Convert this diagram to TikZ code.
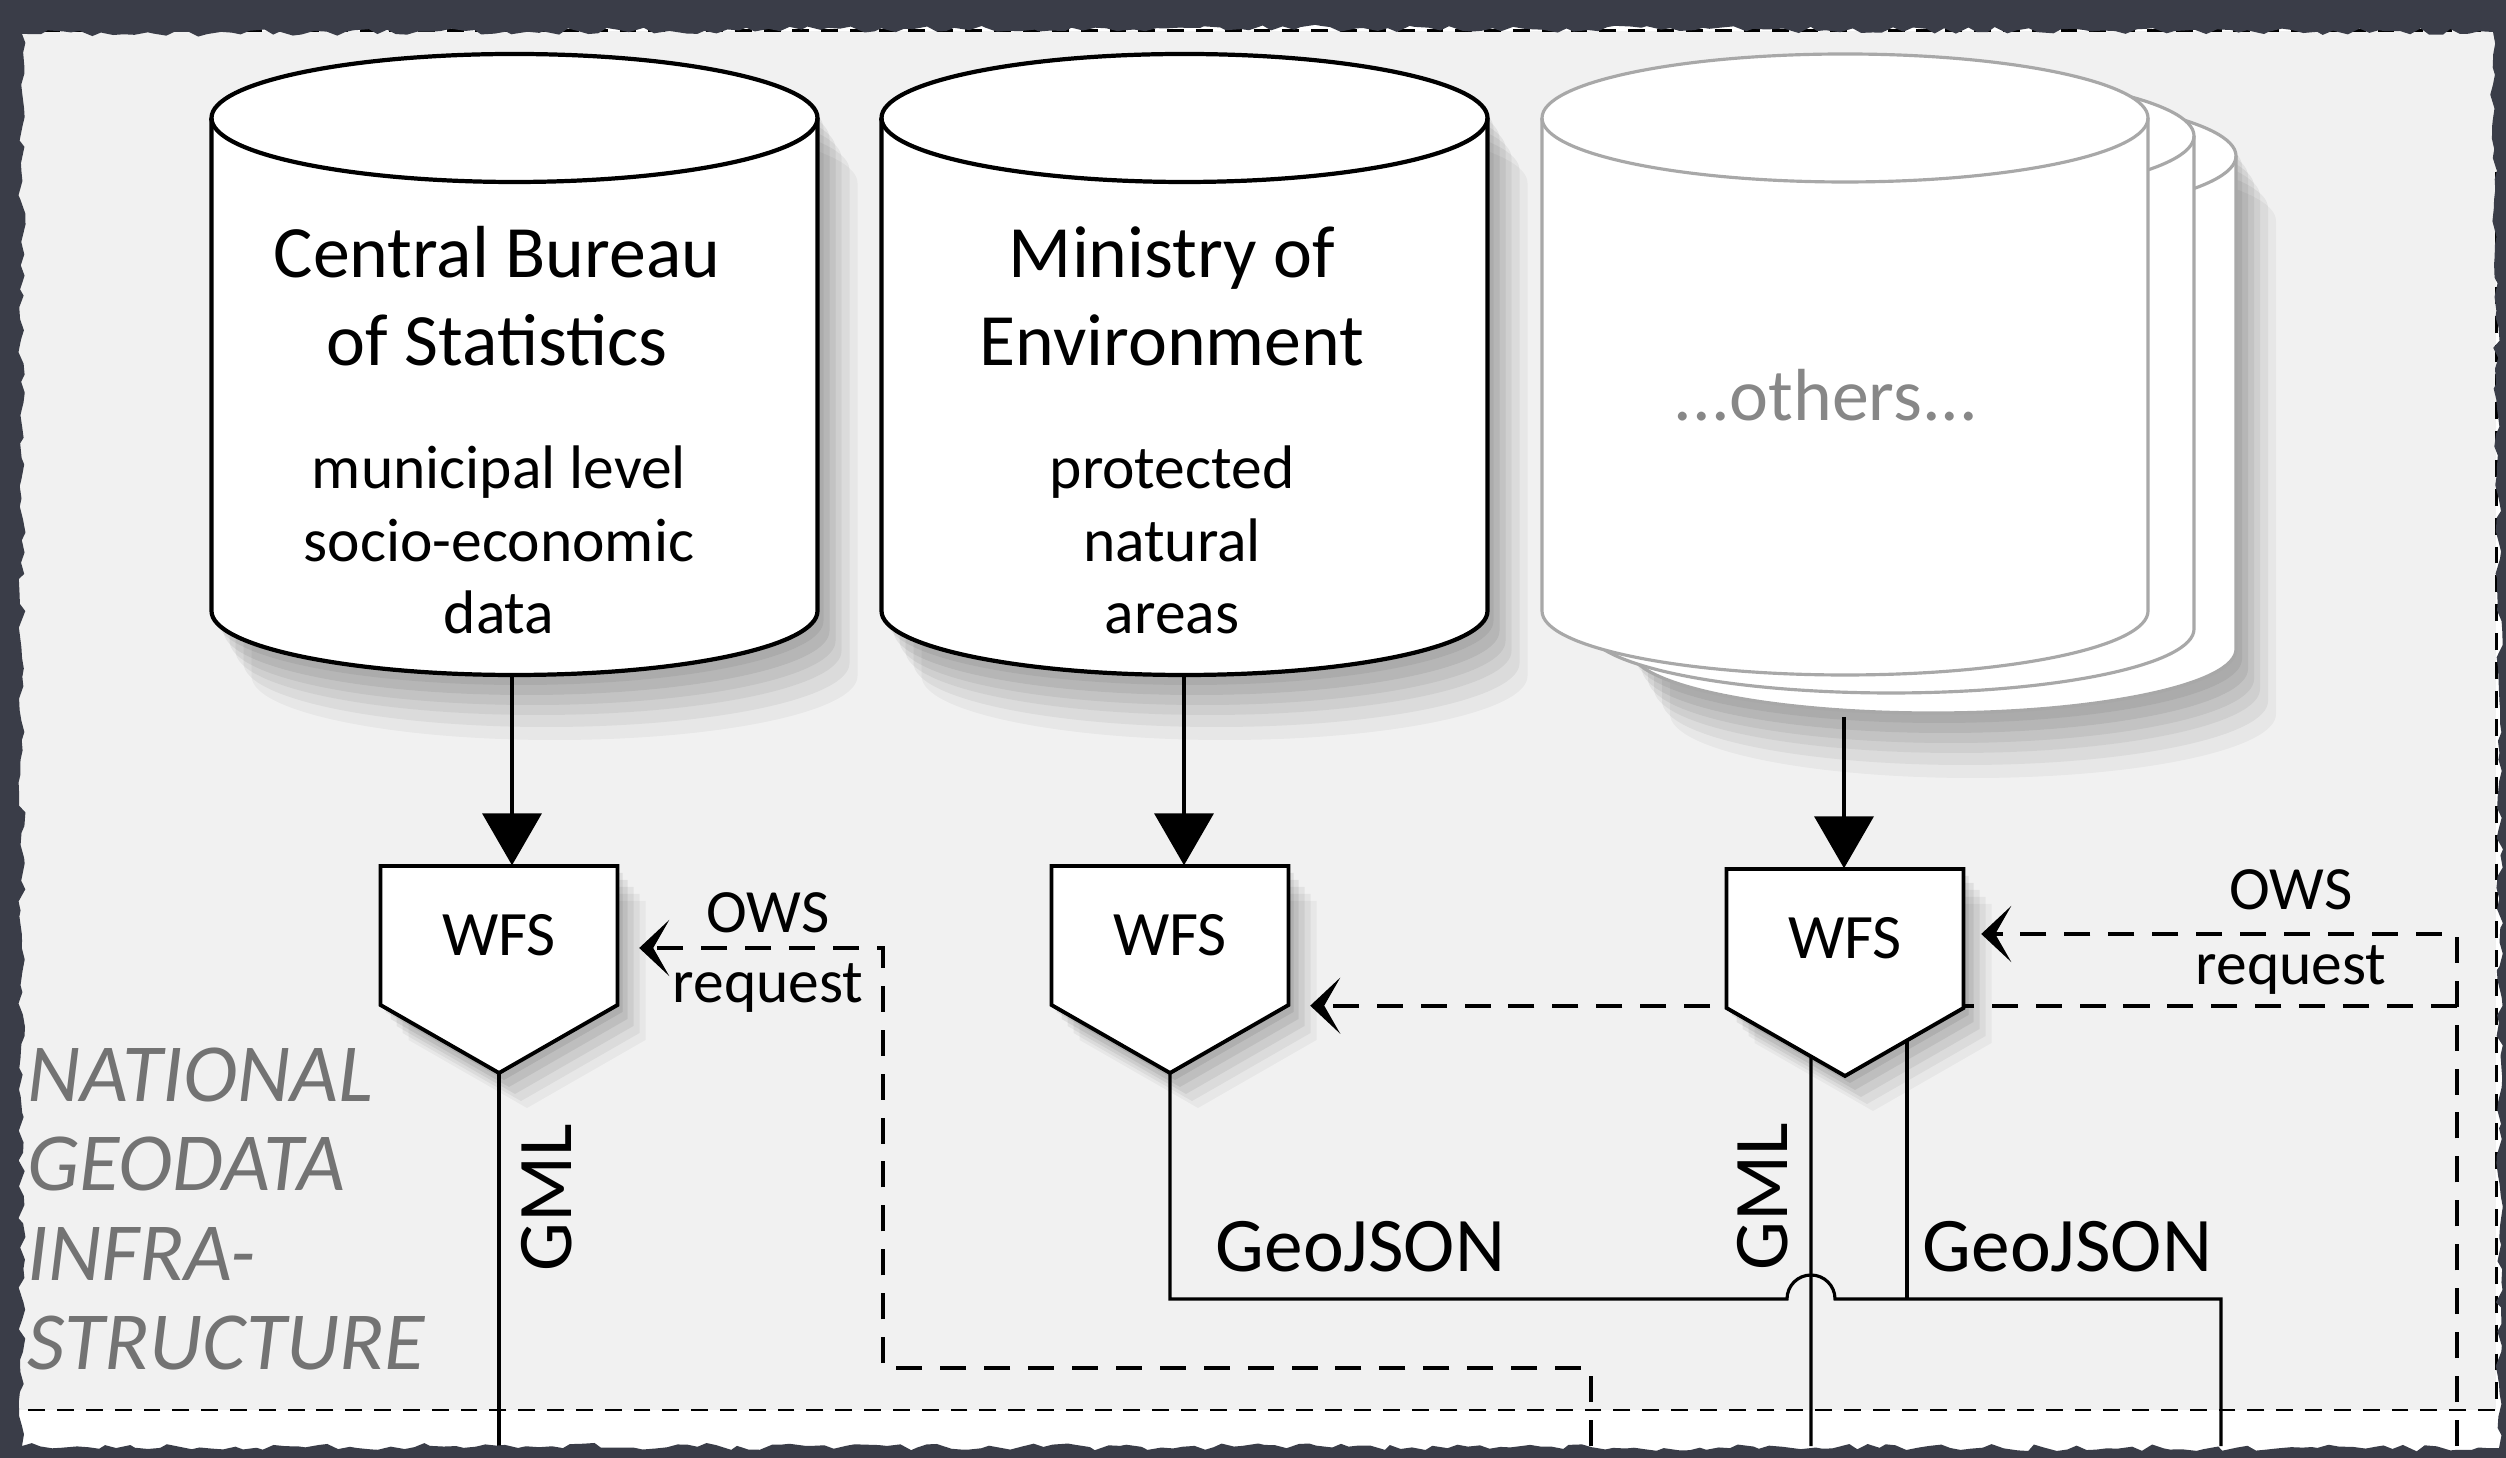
\documentclass[tikz,border=0pt]{standalone}
\usepackage{fontspec}
\setmainfont{Carlito}
\usetikzlibrary{arrows.meta,shadows,decorations.pathmorphing}

\definecolor{framegrey}{RGB}{58,61,72}
\definecolor{ngifill}{RGB}{241,241,241}
\definecolor{ghostline}{RGB}{168,168,168}
\definecolor{ghosttext}{RGB}{135,135,135}
\definecolor{ngitext}{RGB}{115,115,115}

\pgfdeclarelayer{paper}
\pgfdeclarelayer{lines}
\pgfsetlayers{paper,lines,main}

\tikzset{
  dbcyl/.style={fill=white, draw=black, line width=1.2pt},
  ghostcyl/.style={fill=white, draw=ghostline, line width=0.9pt},
  cylshadow/.style={
    drop shadow={shadow xshift=0.6mm, shadow yshift=-1mm, fill=black, opacity=0.06},
    drop shadow={shadow xshift=1.2mm, shadow yshift=-2mm, fill=black, opacity=0.06},
    drop shadow={shadow xshift=1.8mm, shadow yshift=-3mm, fill=black, opacity=0.06},
    drop shadow={shadow xshift=2.4mm, shadow yshift=-4mm, fill=black, opacity=0.05},
    drop shadow={shadow xshift=3.2mm, shadow yshift=-5.2mm, fill=black, opacity=0.05},
    drop shadow={shadow xshift=4mm, shadow yshift=-6.5mm, fill=black, opacity=0.04}},
  noshadow/.style={},
  wfsbox/.style={fill=white, draw=black, line width=1.1pt,
    drop shadow={shadow xshift=0.5mm, shadow yshift=-0.7mm, fill=black, opacity=0.08},
    drop shadow={shadow xshift=1mm, shadow yshift=-1.4mm, fill=black, opacity=0.07},
    drop shadow={shadow xshift=1.6mm, shadow yshift=-2.1mm, fill=black, opacity=0.06},
    drop shadow={shadow xshift=2.2mm, shadow yshift=-2.8mm, fill=black, opacity=0.05},
    drop shadow={shadow xshift=2.8mm, shadow yshift=-3.5mm, fill=black, opacity=0.04}},
  wfsnode/.style={minimum width=2.37cm, minimum height=1.39cm, inner sep=0pt,
    font=\fontsize{18}{21}\selectfont},
  feed/.style={line width=1.1pt, -{Triangle[length=5.2mm, width=5.9mm]}},
  flow/.style={line width=0.9pt},
  owsreq/.style={line width=1.05pt, dash pattern=on 7.4pt off 5.1pt,
    -{Stealth[length=3mm, width=5.6mm, inset=1.6mm]}},
  ngiborder/.style={line width=0.85pt, dash pattern=on 4.8pt off 3.4pt},
  dbtitle/.style={align=center, anchor=base, inner sep=0pt,
    font=\fontsize{21}{25.3}\selectfont},
  dbdata/.style={align=center, anchor=base, inner sep=0pt,
    font=\fontsize{17.5}{20.7}\selectfont},
  fmtlabel/.style={inner sep=0pt, font=\fontsize{22}{26}\selectfont},
  owslabel/.style={inner sep=0pt, anchor=base, font=\fontsize{17.5}{20}\selectfont},
  ngilabel/.style={align=left, anchor=base west, inner sep=0pt, text=ngitext,
    font=\fontsize{23.5}{25.5}\selectfont\itshape}
}

\begin{document}
\begin{tikzpicture}
    \useasboundingbox (0,0) rectangle (25.06,14.58);
    % paper and the infrastructure box
    \begin{pgfonlayer}{paper}
        \fill[white] (0,0) rectangle (25.06,14.58);
        \filldraw[fill=ngifill, draw=black, ngiborder] (0.10,0.48) rectangle (24.96,14.27);
    \end{pgfonlayer}

    % data stores
    \foreach \x in {5.145,11.845}
    {
        \filldraw[dbcyl, cylshadow, xshift=\x cm] (-3.03,13.40) -- (-3.03,8.47)
        arc[start angle=180, end angle=360, x radius=3.03cm, y radius=0.64cm]
        -- (3.03,13.40)
        arc[start angle=0, end angle=180, x radius=3.03cm, y radius=0.64cm] -- cycle;
        \draw[dbcyl, fill=none, xshift=\x cm] (-3.03,13.40)
        arc[start angle=180, end angle=360, x radius=3.03cm, y radius=0.64cm];
    }
    \foreach \dx/\dy/\sh in {0.88/-0.38/cylshadow, 0.46/-0.18/noshadow, 0/0/noshadow}
    {
        \filldraw[ghostcyl, \sh, xshift=18.45cm+\dx cm, yshift=\dy cm] (-3.03,13.40) -- (-3.03,8.47)
        arc[start angle=180, end angle=360, x radius=3.03cm, y radius=0.64cm]
        -- (3.03,13.40)
        arc[start angle=0, end angle=180, x radius=3.03cm, y radius=0.64cm] -- cycle;
        \draw[ghostcyl, fill=none, xshift=18.45cm+\dx cm, yshift=\dy cm] (-3.03,13.40)
        arc[start angle=180, end angle=360, x radius=3.03cm, y radius=0.64cm];
    }

    \node[dbtitle] (cbs) at (4.97,10.92) {Central Bureau\\of Statistics};
    \node[dbdata] (cbsData) at (4.99,8.24) {municipal level\\socio-economic\\data};
    \node[dbtitle] (moe) at (11.72,10.92) {Ministry of\\Environment};
    \node[dbdata] (moeData) at (11.72,8.24) {protected\\natural\\areas};
    \node[dbtitle, text=ghosttext] (others) at (18.26,10.37) {...others...};

    \coordinate (cbsBot) at (5.12,7.83);
    \coordinate (moeBot) at (11.84,7.83);
    \coordinate (othBot) at (18.44,7.41);

    % feature services
    \foreach \x/\y in {4.99/5.225, 11.70/5.225, 18.45/5.195}
        \filldraw[wfsbox, xshift=\x cm, yshift=\y cm] (-1.185,0.695) -- (1.185,0.695)
        -- (1.185,-0.695) -- (0,-1.375) -- (-1.185,-0.695) -- cycle;
    \node[wfsnode] (wfsA) at (4.99,5.225) {WFS};
    \node[wfsnode] (wfsB) at (11.70,5.225) {WFS};
    \node[wfsnode] (wfsC) at (18.45,5.195) {WFS};

    % outgoing ends
    \coordinate (gmlAout) at (4.99,0.12);
    \coordinate (gmlCout) at (18.11,0.12);
    \coordinate (jsonOut) at (22.21,0.12);
    \coordinate (owsAout) at (15.91,0.12);
    \coordinate (owsCout) at (24.57,0.12);
    \coordinate (hop) at (18.11,1.59);

    \begin{pgfonlayer}{lines}
        \draw[feed] (cbsBot) -- (cbsBot |- wfsA.north);
        \draw[feed] (moeBot) -- (moeBot |- wfsB.north);
        \draw[feed] (othBot) -- (othBot |- wfsC.north);
        \draw[flow] (wfsA.south) -- (gmlAout);
        \draw[flow] (wfsB.south) |- ([xshift=-2.4mm]hop)
            arc[start angle=180, end angle=0, radius=2.4mm] -| (jsonOut);
        \draw[flow] ([xshift=-3.4mm]wfsC.south) -- (gmlCout);
        \draw[flow] ([xshift=6.2mm]wfsC.south) -- ([xshift=6.2mm]wfsC.south |- hop);
        \draw[owsreq] (owsAout) |- (8.83,0.90) |- ([xshift=2.1mm, yshift=-1.25mm]wfsA.east);
        \draw[owsreq] (owsCout) |- ([xshift=1.7mm, yshift=0.45mm]wfsC.east);
        \draw[owsreq] (owsCout |- wfsB.south east) -- ([xshift=2.1mm]wfsB.south east);
    \end{pgfonlayer}

    % labels
    \node[fmtlabel, rotate=90] (gmlA) at (5.47,2.60) {GML};
    \node[fmtlabel, rotate=90] (gmlC) at (17.63,2.61) {GML};
    \node[fmtlabel, anchor=base west] (jsonB) at (12.15,1.86) {GeoJSON};
    \node[fmtlabel, anchor=base west] (jsonC) at (19.22,1.86) {GeoJSON};
    \node[owslabel] (owsA) at (7.68,5.25) {OWS};
    \node[owslabel] (reqA) at (7.68,4.55) {request};
    \node[owslabel] (owsC) at (22.91,5.48) {OWS};
    \node[owslabel] (reqC) at (22.91,4.73) {request};
    \node[ngilabel] (ngi) at (0.27,0.88) {NATIONAL\\GEODATA\\INFRA-\\STRUCTURE};

    % torn frame
    \pgfmathsetseed{4}
    \fill[framegrey, even odd rule] (-0.5,-0.5) rectangle (25.6,15.1)
        decorate[decoration={random steps, segment length=3pt, amplitude=1pt}]
        {(0.22,0.12) -- (24.99,0.10) -- (25.00,7.5) -- (24.93,14.26) -- (12,14.30)
        -- (0.22,14.24) -- cycle};
\end{tikzpicture}
\end{document}
